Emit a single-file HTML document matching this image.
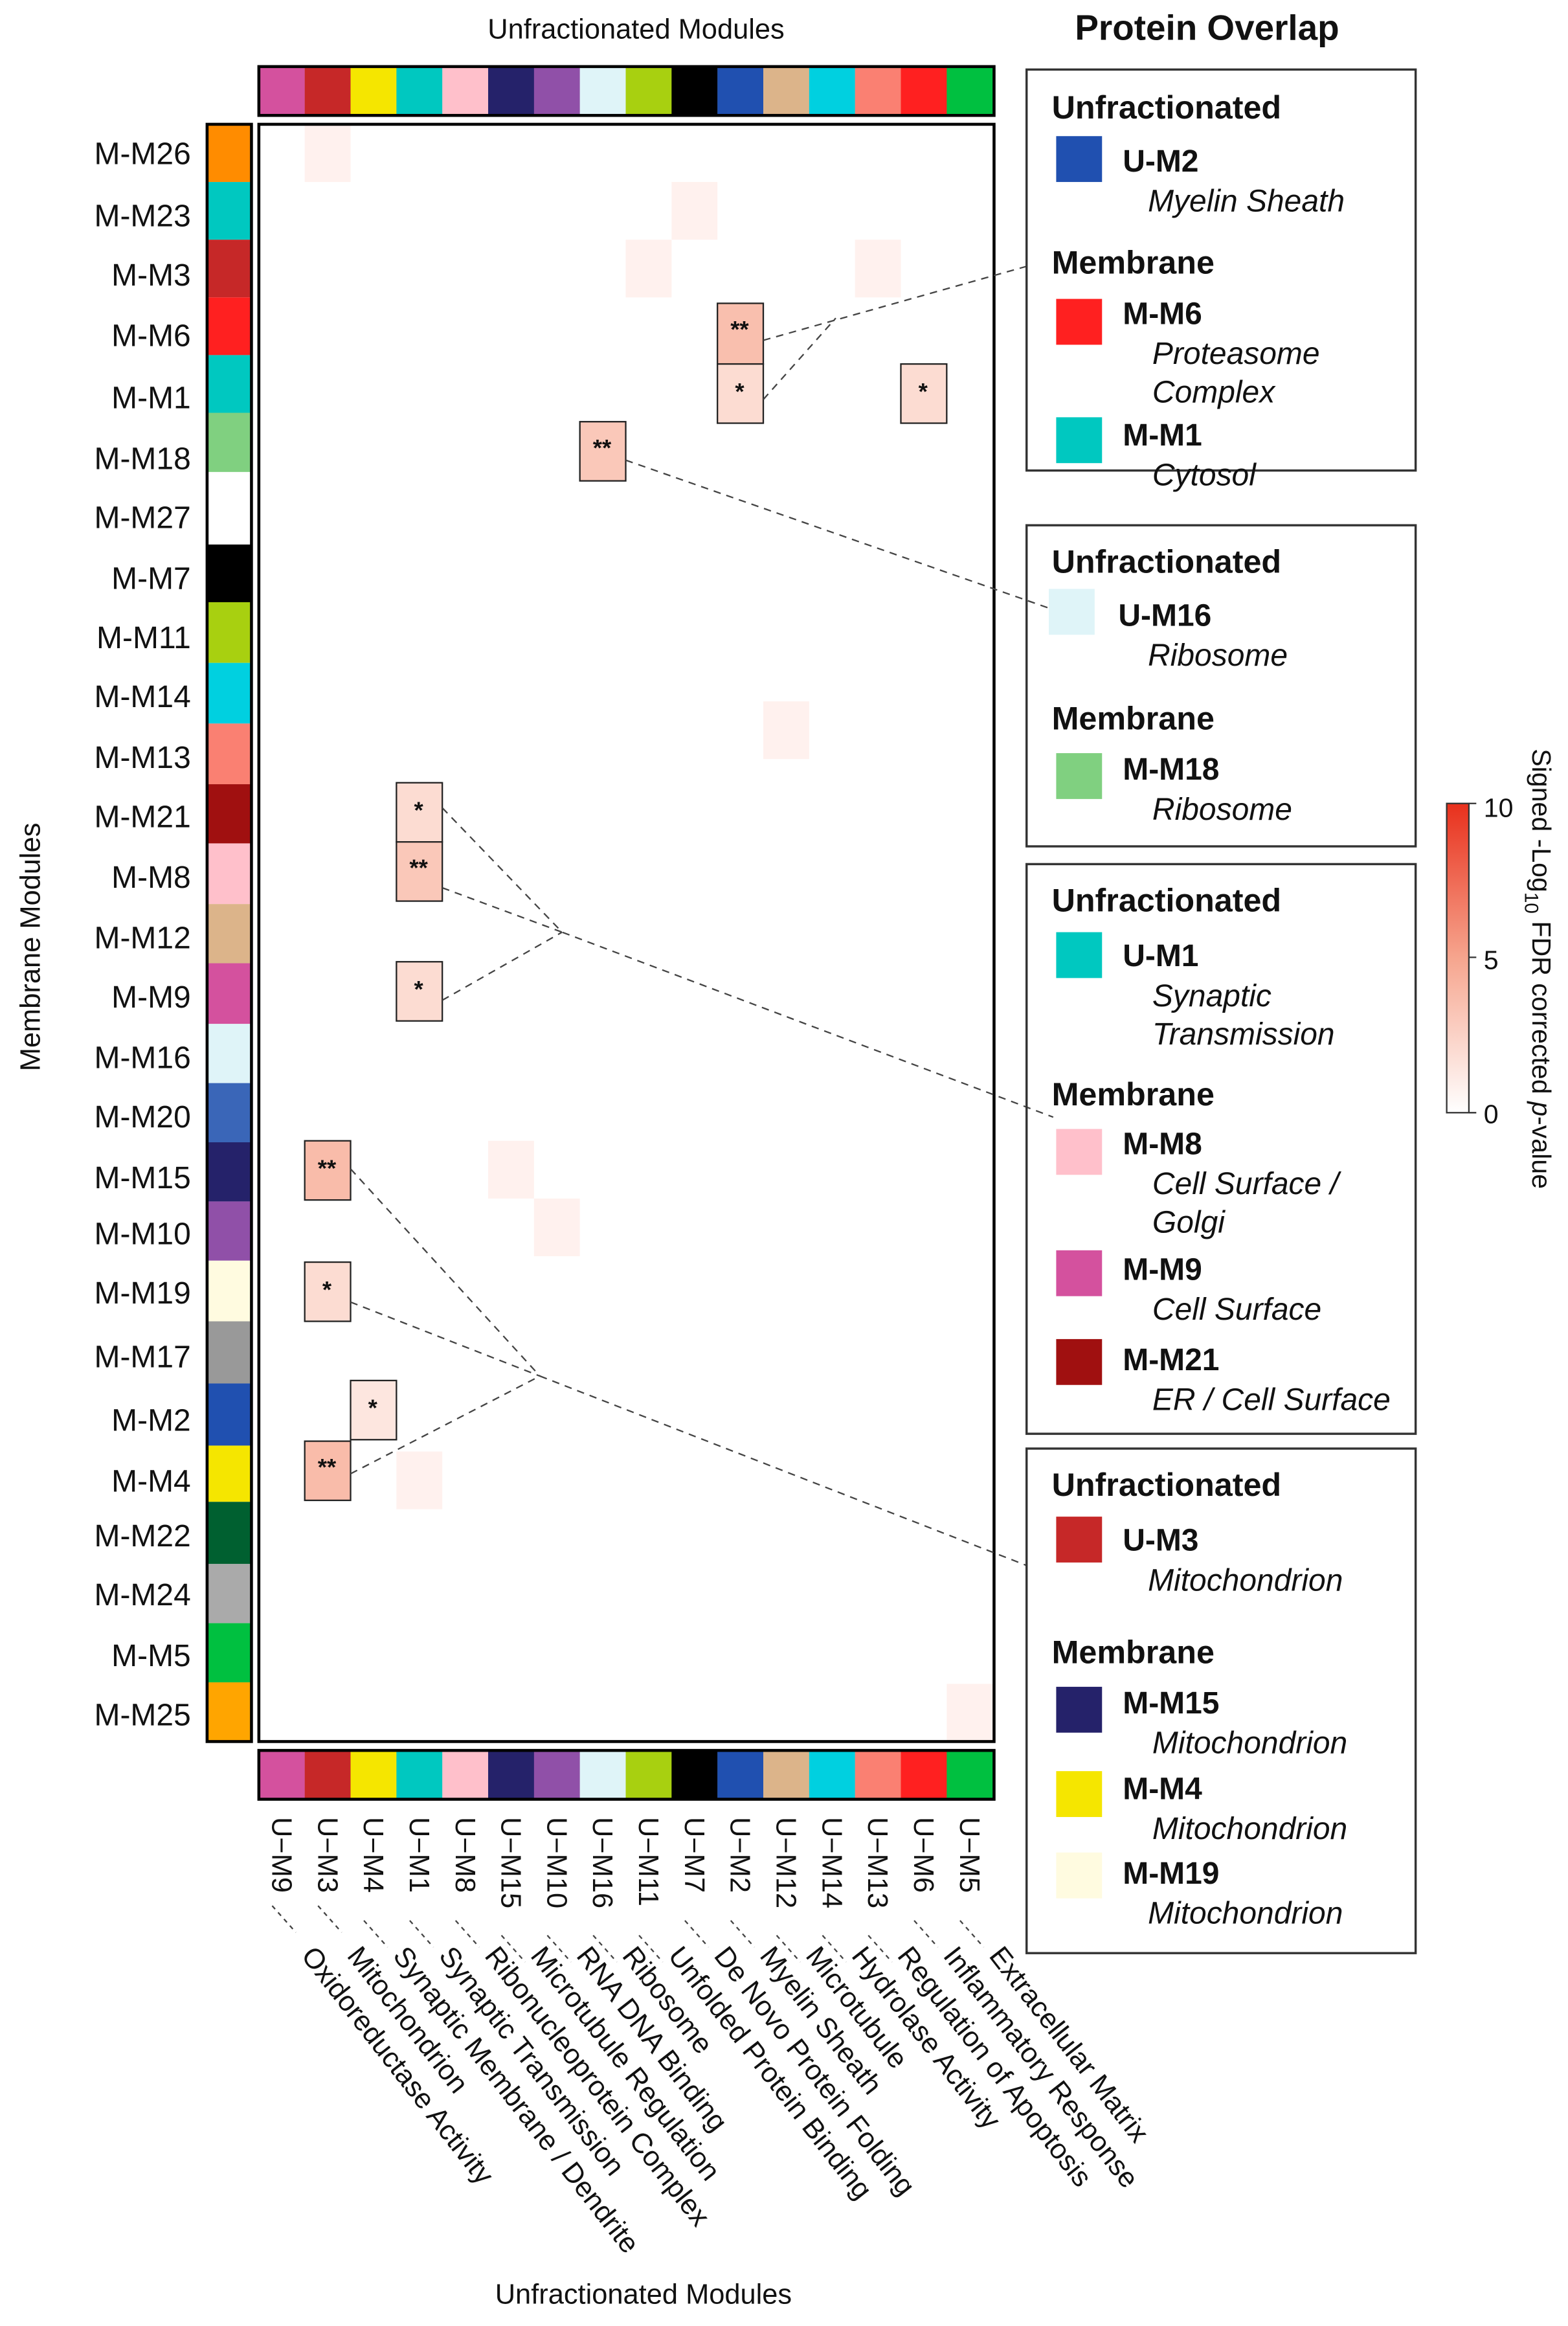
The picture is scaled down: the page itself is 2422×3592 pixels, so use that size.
<!DOCTYPE html>
<html><head><meta charset="utf-8"><style>
html,body{margin:0;padding:0;background:#fff}
svg{display:block}
text{font-family:"Liberation Sans",Arial,sans-serif;fill:#111}
</style></head><body>
<svg width="2422" height="3592" viewBox="0 0 1060 1572" preserveAspectRatio="none" xmlns="http://www.w3.org/2000/svg">
<defs><linearGradient id="g" x1="0" y1="1" x2="0" y2="0"><stop offset="0" stop-color="#fff"/><stop offset="0.5" stop-color="#f6a58e"/><stop offset="1" stop-color="#e8301c"/></linearGradient></defs>
<text x="430" y="26" font-size="19" text-anchor="middle">Unfractionated Modules</text>
<g id="topbar" stroke="none">
<rect x="175" y="45" width="31.1" height="33" fill="#d4519e"/><rect x="206" y="45" width="31.1" height="33" fill="#c62828"/><rect x="237" y="45" width="31.1" height="33" fill="#f5e600"/><rect x="268" y="45" width="31.1" height="33" fill="#00c8c0"/><rect x="299" y="45" width="31.1" height="33" fill="#ffc0cb"/><rect x="330" y="45" width="31.1" height="33" fill="#25226a"/><rect x="361" y="45" width="31.1" height="33" fill="#9050a8"/><rect x="392" y="45" width="31.1" height="33" fill="#dff4f8"/><rect x="423" y="45" width="31.1" height="33" fill="#a8d010"/><rect x="454" y="45" width="31.1" height="33" fill="#000"/><rect x="485" y="45" width="31.1" height="33" fill="#2050b0"/><rect x="516" y="45" width="31.1" height="33" fill="#dcb48a"/><rect x="547" y="45" width="31.1" height="33" fill="#00d0e0"/><rect x="578" y="45" width="31.1" height="33" fill="#fa8072"/><rect x="609" y="45" width="31.1" height="33" fill="#ff2020"/><rect x="640" y="45" width="32" height="33" fill="#00c040"/>
</g>
<rect x="175" y="45" width="497" height="33" fill="none" stroke="#000" stroke-width="2"/>
<use href="#topbar" transform="translate(0,1138)"/>
<rect x="175" y="1183" width="497" height="33" fill="none" stroke="#000" stroke-width="2"/>
<g fill="#fff1ee">
<rect x="206" y="84" width="31" height="39"/><rect x="454" y="123" width="31" height="39"/><rect x="423" y="162" width="31" height="39"/><rect x="578" y="162" width="31" height="39"/><rect x="516" y="474" width="31" height="39"/><rect x="330" y="771" width="31" height="39"/><rect x="361" y="810" width="31" height="39"/><rect x="268" y="981" width="31" height="39"/><rect x="640" y="1138" width="31" height="39"/>
</g>
<g stroke="#222" stroke-width="1">
<rect x="485" y="205" width="31" height="41" fill="#f9bfae"/><rect x="485" y="246" width="31" height="40" fill="#fcdcd2"/>
<rect x="609" y="246" width="31" height="40" fill="#fcdcd2"/>
<rect x="392" y="285" width="31" height="40" fill="#fac8b9"/>
<rect x="268" y="529" width="31" height="40" fill="#fcdcd2"/><rect x="268" y="569" width="31" height="40" fill="#fac8b9"/>
<rect x="268" y="650" width="31" height="40" fill="#fcdcd2"/>
<rect x="206" y="771" width="31" height="40" fill="#f9bcaa"/>
<rect x="206" y="853" width="31" height="40" fill="#fcdcd2"/>
<rect x="237" y="933" width="31" height="40" fill="#fde6df"/>
<rect x="206" y="974" width="31" height="40" fill="#f9bcaa"/>
</g>
<g font-size="16" font-weight="bold" text-anchor="middle">
<text x="500" y="228">**</text><text x="500" y="270">*</text><text x="624" y="270">*</text><text x="407" y="308">**</text>
<text x="283" y="553">*</text><text x="283" y="592">**</text><text x="283" y="674">*</text>
<text x="221" y="795">**</text><text x="221" y="877">*</text><text x="252" y="957">*</text><text x="221" y="997">**</text>
</g>
<rect x="175" y="84" width="497" height="1093" fill="none" stroke="#000" stroke-width="2"/>
<g stroke="#444" stroke-width="1" stroke-dasharray="5,4" fill="none">
<path d="M516 230 L694 180 M516 270 L565 215"/>
<path d="M423 311 L712 412"/>
<path d="M299 546 L380 630 L712 755 M299 600 L380 630 M299 676 L380 630"/>
<path d="M237 790 L365 930 M237 880 L365 930 M237 996 L365 930 L694 1058"/>
</g>
<g>
<rect x="140" y="84" width="30" height="39" fill="#ff8c00"/><rect x="140" y="123" width="30" height="39" fill="#00c8c0"/><rect x="140" y="162" width="30" height="39" fill="#c62828"/><rect x="140" y="201" width="30" height="39" fill="#ff2020"/><rect x="140" y="240" width="30" height="39" fill="#00c8c0"/><rect x="140" y="279" width="30" height="40" fill="#80d080"/><rect x="140" y="319" width="30" height="49" fill="#fff"/><rect x="140" y="368" width="30" height="39" fill="#000"/><rect x="140" y="407" width="30" height="41" fill="#a8d010"/><rect x="140" y="448" width="30" height="41" fill="#00d0e0"/><rect x="140" y="489" width="30" height="41" fill="#fa8072"/><rect x="140" y="530" width="30" height="40" fill="#a01010"/><rect x="140" y="570" width="30" height="41" fill="#ffc0cb"/><rect x="140" y="611" width="30" height="40" fill="#dcb48a"/><rect x="140" y="651" width="30" height="41" fill="#d4519e"/><rect x="140" y="692" width="30" height="40" fill="#dff4f8"/><rect x="140" y="732" width="30" height="40" fill="#3a66b8"/><rect x="140" y="772" width="30" height="40" fill="#25226a"/><rect x="140" y="812" width="30" height="40" fill="#9050a8"/><rect x="140" y="852" width="30" height="41" fill="#fffbe0"/><rect x="140" y="893" width="30" height="42" fill="#999"/><rect x="140" y="935" width="30" height="42" fill="#2050b0"/><rect x="140" y="977" width="30" height="38" fill="#f5e600"/><rect x="140" y="1015" width="30" height="42" fill="#006030"/><rect x="140" y="1057" width="30" height="40" fill="#aaa"/><rect x="140" y="1097" width="30" height="40" fill="#00c040"/><rect x="140" y="1137" width="30" height="40" fill="#ffa500"/>
</g>
<rect x="140" y="84" width="30" height="1093" fill="none" stroke="#000" stroke-width="2"/>
<g font-size="21" text-anchor="end">
<text x="129" y="111">M-M26</text><text x="129" y="153">M-M23</text><text x="129" y="193">M-M3</text><text x="129" y="234">M-M6</text><text x="129" y="276">M-M1</text><text x="129" y="317">M-M18</text><text x="129" y="357">M-M27</text><text x="129" y="398">M-M7</text><text x="129" y="438">M-M11</text><text x="129" y="478">M-M14</text><text x="129" y="519">M-M13</text><text x="129" y="559">M-M21</text><text x="129" y="600">M-M8</text><text x="129" y="641">M-M12</text><text x="129" y="681">M-M9</text><text x="129" y="722">M-M16</text><text x="129" y="762">M-M20</text><text x="129" y="803">M-M15</text><text x="129" y="841">M-M10</text><text x="129" y="881">M-M19</text><text x="129" y="924">M-M17</text><text x="129" y="967">M-M2</text><text x="129" y="1008">M-M4</text><text x="129" y="1045">M-M22</text><text x="129" y="1085">M-M24</text><text x="129" y="1126">M-M5</text><text x="129" y="1166">M-M25</text>
</g>
<text transform="translate(27,640) rotate(-90)" font-size="19" text-anchor="middle">Membrane Modules</text>
<g font-size="19">
<g transform="translate(184,1228) rotate(90)"><text>U−M9</text></g>
<g transform="translate(215,1228) rotate(90)"><text>U−M3</text></g>
<g transform="translate(246,1228) rotate(90)"><text>U−M4</text></g>
<g transform="translate(277,1228) rotate(90)"><text>U−M1</text></g>
<g transform="translate(308,1228) rotate(90)"><text>U−M8</text></g>
<g transform="translate(339,1228) rotate(90)"><text>U−M15</text></g>
<g transform="translate(370,1228) rotate(90)"><text>U−M10</text></g>
<g transform="translate(401,1228) rotate(90)"><text>U−M16</text></g>
<g transform="translate(432,1228) rotate(90)"><text>U−M11</text></g>
<g transform="translate(463,1228) rotate(90)"><text>U−M7</text></g>
<g transform="translate(494,1228) rotate(90)"><text>U−M2</text></g>
<g transform="translate(525,1228) rotate(90)"><text>U−M12</text></g>
<g transform="translate(556,1228) rotate(90)"><text>U−M14</text></g>
<g transform="translate(587,1228) rotate(90)"><text>U−M13</text></g>
<g transform="translate(618,1228) rotate(90)"><text>U−M6</text></g>
<g transform="translate(649,1228) rotate(90)"><text>U−M5</text></g>
</g>
<g stroke="#444" stroke-dasharray="3,3" stroke-width="1">
<path d="M184 1288 l16 18 M215 1288 l16 18 M246 1298 l16 18 M277 1298 l16 18 M308 1298 l16 18 M339 1308 l16 18 M370 1308 l16 18 M401 1308 l16 18 M432 1308 l16 18 M463 1298 l16 18 M494 1298 l16 18 M525 1308 l16 18 M556 1308 l16 18 M587 1308 l16 18 M618 1298 l16 18 M649 1298 l16 18"/>
</g>
<g font-size="19">
<text transform="translate(203,1322) rotate(52)">Oxidoreductase Activity</text>
<text transform="translate(234,1322) rotate(52)">Mitochondrion</text>
<text transform="translate(265,1322) rotate(52)">Synaptic Membrane / Dendrite</text>
<text transform="translate(296,1322) rotate(52)">Synaptic Transmission</text>
<text transform="translate(327,1322) rotate(52)">Ribonucleoprotein Complex</text>
<text transform="translate(358,1322) rotate(52)">Microtubule Regulation</text>
<text transform="translate(389,1322) rotate(52)">RNA DNA Binding</text>
<text transform="translate(420,1322) rotate(52)">Ribosome</text>
<text transform="translate(451,1322) rotate(52)">Unfolded Protein Binding</text>
<text transform="translate(482,1322) rotate(52)">De Novo Protein Folding</text>
<text transform="translate(513,1322) rotate(52)">Myelin Sheath</text>
<text transform="translate(544,1322) rotate(52)">Microtubule</text>
<text transform="translate(575,1322) rotate(52)">Hydrolase Activity</text>
<text transform="translate(606,1322) rotate(52)">Regulation of Apoptosis</text>
<text transform="translate(637,1322) rotate(52)">Inflammatory Response</text>
<text transform="translate(668,1322) rotate(52)">Extracellular Matrix</text>
</g>
<text x="435" y="1557" font-size="19" text-anchor="middle">Unfractionated Modules</text>
<text x="816" y="27" font-size="24" font-weight="bold" text-anchor="middle">Protein Overlap</text>
<g fill="none" stroke="#333" stroke-width="1.5">
<rect x="694" y="47" width="263" height="271"/><rect x="694" y="355" width="263" height="217"/><rect x="694" y="584" width="263" height="385"/><rect x="694" y="979" width="263" height="341"/>
</g>
<g font-size="21">
<text x="711" y="80" font-weight="bold" font-size="22">Unfractionated</text>
<rect x="714" y="92" width="31" height="31" fill="#2050b0"/><text x="759" y="116" font-weight="bold">U-M2</text><text x="776" y="143" font-style="italic">Myelin Sheath</text>
<text x="711" y="185" font-weight="bold" font-size="22">Membrane</text>
<rect x="714" y="202" width="31" height="31" fill="#ff2020"/><text x="759" y="219" font-weight="bold">M-M6</text><text x="779" y="246" font-style="italic">Proteasome</text><text x="779" y="272" font-style="italic">Complex</text>
<rect x="714" y="282" width="31" height="31" fill="#00c8c0"/><text x="759" y="301" font-weight="bold">M-M1</text><text x="779" y="328" font-style="italic">Cytosol</text>
<text x="711" y="387" font-weight="bold" font-size="22">Unfractionated</text>
<rect x="709" y="398" width="31" height="31" fill="#dff4f8"/><text x="756" y="423" font-weight="bold">U-M16</text><text x="776" y="450" font-style="italic">Ribosome</text>
<text x="711" y="493" font-weight="bold" font-size="22">Membrane</text>
<rect x="714" y="509" width="31" height="31" fill="#80d080"/><text x="759" y="527" font-weight="bold">M-M18</text><text x="779" y="554" font-style="italic">Ribosome</text>
<text x="711" y="616" font-weight="bold" font-size="22">Unfractionated</text>
<rect x="714" y="630" width="31" height="31" fill="#00c8c0"/><text x="759" y="653" font-weight="bold">U-M1</text><text x="779" y="680" font-style="italic">Synaptic</text><text x="779" y="706" font-style="italic">Transmission</text>
<text x="711" y="747" font-weight="bold" font-size="22">Membrane</text>
<rect x="714" y="763" width="31" height="31" fill="#ffc0cb"/><text x="759" y="780" font-weight="bold">M-M8</text><text x="779" y="807" font-style="italic">Cell Surface /</text><text x="779" y="833" font-style="italic">Golgi</text>
<rect x="714" y="845" width="31" height="31" fill="#d4519e"/><text x="759" y="865" font-weight="bold">M-M9</text><text x="779" y="892" font-style="italic">Cell Surface</text>
<rect x="714" y="905" width="31" height="31" fill="#a01010"/><text x="759" y="926" font-weight="bold">M-M21</text><text x="779" y="953" font-style="italic">ER / Cell Surface</text>
<text x="711" y="1011" font-weight="bold" font-size="22">Unfractionated</text>
<rect x="714" y="1025" width="31" height="31" fill="#c62828"/><text x="759" y="1048" font-weight="bold">U-M3</text><text x="776" y="1075" font-style="italic">Mitochondrion</text>
<text x="711" y="1124" font-weight="bold" font-size="22">Membrane</text>
<rect x="714" y="1140" width="31" height="31" fill="#25226a"/><text x="759" y="1158" font-weight="bold">M-M15</text><text x="779" y="1185" font-style="italic">Mitochondrion</text>
<rect x="714" y="1197" width="31" height="31" fill="#f5e600"/><text x="759" y="1216" font-weight="bold">M-M4</text><text x="779" y="1243" font-style="italic">Mitochondrion</text>
<rect x="714" y="1252" width="31" height="31" fill="#fffbe0"/><text x="759" y="1273" font-weight="bold">M-M19</text><text x="776" y="1300" font-style="italic">Mitochondrion</text>
</g>
<rect x="978" y="543" width="15" height="209" fill="url(#g)" stroke="#333" stroke-width="1"/>
<g stroke="#333"><path d="M993 543h5M993 647h5M993 752h5"/></g>
<g font-size="18"><text x="1003" y="552">10</text><text x="1003" y="655">5</text><text x="1003" y="759">0</text></g>
<text transform="translate(1036,506) rotate(90)" font-size="18">Signed -Log<tspan font-size="13" dy="5">10</tspan><tspan dy="-5"> FDR corrected </tspan><tspan font-style="italic">p</tspan>-value</text>
</svg>
</body></html>
